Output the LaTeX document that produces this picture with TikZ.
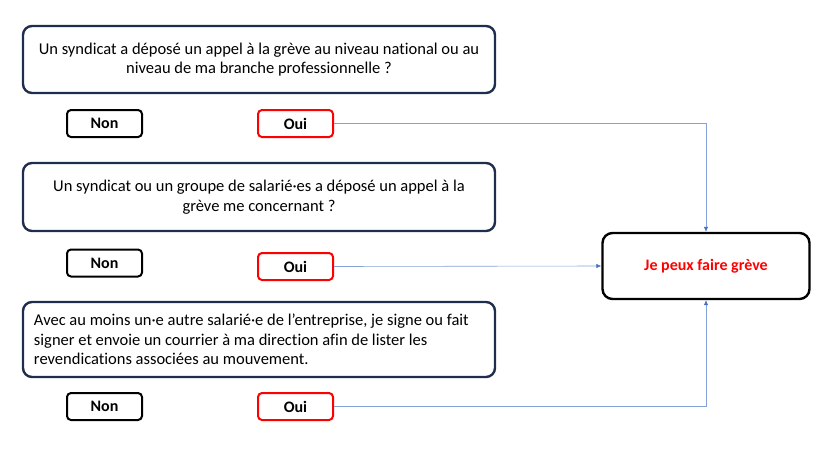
\documentclass[tikz,border=0pt]{standalone}
\usepackage{fontspec}
\setmainfont{Carlito}[Ligatures=NoCommon]
\usetikzlibrary{arrows.meta}
\definecolor{navy}{HTML}{1F2D4E}
\definecolor{linkblue}{HTML}{4472C4}
\begin{document}
\begin{tikzpicture}[x=1pt, y=-1pt,
  question/.style = {draw=navy, line width=2.4pt, rounded corners=9pt, minimum width=472pt, inner sep=0pt, font=\fontsize{16.5}{19.5}\selectfont},
  non/.style = {draw=black, line width=2pt, rounded corners=4pt, minimum width=75pt, minimum height=27pt, inner sep=0pt, font=\fontsize{16}{18}\selectfont\bfseries},
  oui/.style = {non, draw=red},
  result/.style = {draw=black, line width=2.4pt, rounded corners=10pt, minimum width=207pt, minimum height=66pt, inner sep=0pt, text=red, font=\fontsize{16}{18}\selectfont\bfseries},
  link/.style = {draw=linkblue!65, line width=0.6pt, -{Latex[length=5pt,width=4.5pt,color=linkblue]}}
]
\useasboundingbox (0,0) rectangle (839,464);

\node[question, minimum height=67pt, align=center] (q1) at (259,59.5)
  {Un syndicat a déposé un appel à la grève au niveau national ou au\\niveau de ma branche professionnelle ?};
\node[question, minimum height=68pt, align=center] (q2) at (259,197)
  {Un syndicat ou un groupe de salarié·es a déposé un appel à la\\grève me concernant ?};
\node[question, minimum height=75pt] (q3) at (259,339.5) {};
\node[inner sep=0pt, anchor=west, align=left, font=\fontsize{16.5}{19.5}\selectfont] (q3text) at ([xshift=12pt]q3.west)
  {Avec au moins un·e autre salarié·e de l’entreprise, je signe ou fait\\signer et envoie un courrier à ma direction afin de lister les\\revendications associées au mouvement.};

\node[non] (non1) at (104.5,123.5) {Non};
\node[non] (non2) at (104.5,263) {Non};
\node[non] (non3) at (104.5,406.5) {Non};

\node[oui] (oui1) at (295.5,123.5) {Oui};
\node[oui] (oui2) at (295.5,266.5) {Oui};
\node[oui] (oui3) at (295.5,406.5) {Oui};

\node[result] (greve) at (706,266) {Je peux faire grève};

\draw[link] (oui1.east) -| (greve.north);
\draw[link] (oui2.east) -- (greve.west);
\draw[link] (oui3.east) -| (greve.south);
\end{tikzpicture}
\end{document}
